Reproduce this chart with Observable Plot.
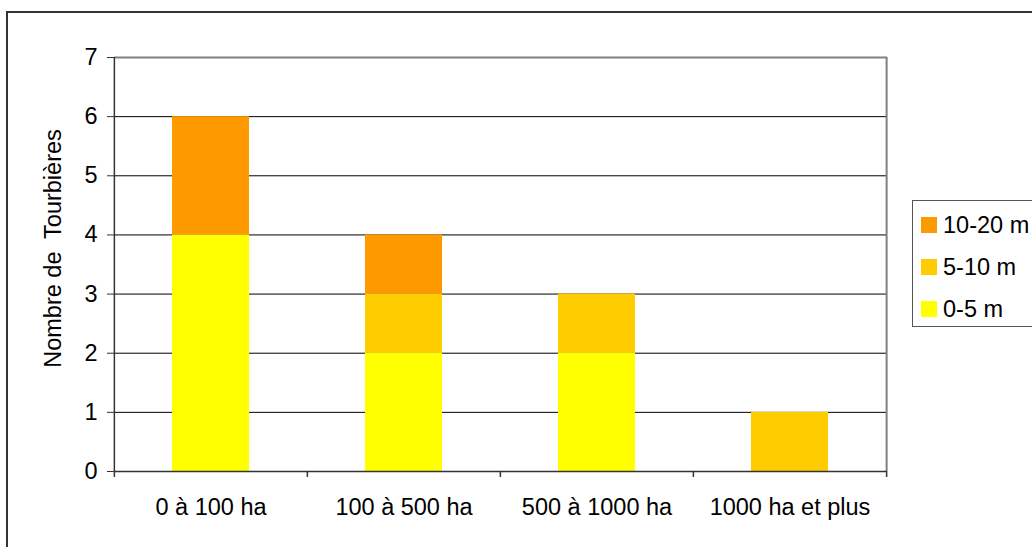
<!DOCTYPE html>
<html>
<head>
<meta charset="utf-8">
<script src="https://cdn.jsdelivr.net/npm/d3@7"></script>
<script src="https://cdn.jsdelivr.net/npm/@observablehq/plot@0.6"></script>
<style>
  html, body { margin: 0; padding: 0; background: #fff; overflow: hidden; }
  #wrap { position: relative; width: 1032px; height: 547px; overflow: hidden; font-family: "Liberation Sans", Arial, sans-serif; }
  #outer { position: absolute; left: 6px; top: 11px; width: 1100px; height: 600px; border: 2px solid #333; box-sizing: border-box; }
  #chart { position: absolute; left: 0; top: 0; }
  #chart svg text { white-space: pre; }
  #legend { position: absolute; left: 912px; top: 200px; width: 160px; height: 127px; border: 1px solid #555; box-sizing: border-box; background: #fff; }
  .item { position: absolute; left: 8px; height: 24px; display: flex; align-items: center; font-size: 23.5px; color: #000; white-space: nowrap; }
  .sw { width: 16px; height: 16px; margin-right: 6px; }
</style>
</head>
<body>
<div id="wrap">
  <div id="outer"></div>
  <div id="chart"></div>
  <div id="legend"></div>
</div>
<script>
// ---- data ----
const cats = ["0 à 100 ha", "100 à 500 ha", "500 à 1000 ha", "1000 ha et plus"];
const series = ["0-5 m", "5-10 m", "10-20 m"];
const v0_5 = [4, 2, 2, 0];
const v5_10 = [0, 1, 1, 1];
const v10_20 = [2, 1, 0, 0];
const colors = ["#FFFF00", "#FFCC00", "#FF9900"];
const yTicks = [0, 1, 2, 3, 4, 5, 6, 7];
const yLabel = "Nombre de  Tourbières";

const values = [v0_5, v5_10, v10_20];
const data = cats.flatMap((c, i) => series.map((s, k) => ({cat: c, series: s, value: values[k][i]})));

// ---- layout ----
const W = 1032, H = 547;
const mL = 114, mR = 145, mT = 57, mB = 76;
const bandW = (W - mL - mR) / cats.length;
const FS = 23.5;

const chart = Plot.plot({
  width: W,
  height: H,
  marginLeft: mL,
  marginRight: mR,
  marginTop: mT,
  marginBottom: mB,
  style: {fontFamily: "'Liberation Sans', Arial, sans-serif", fontSize: FS + "px", background: "transparent", color: "#000", overflow: "visible"},
  x: {type: "band", domain: cats, paddingInner: 0.6, paddingOuter: 0.3},
  y: {domain: [0, 7]},
  color: {domain: series, range: colors},
  marks: [
    Plot.ruleY(yTicks.slice(1, -1), {stroke: "#000", strokeWidth: 1}),
    Plot.ruleY([yTicks[yTicks.length - 1]], {stroke: "#808080", strokeWidth: 2}),
    Plot.ruleX([cats[cats.length - 1]], {dx: bandW / 2, y1: 0, y2: 7, stroke: "#808080", strokeWidth: 2}),
    Plot.barY(data, {x: "cat", y: "value", fill: "series"}),
    Plot.ruleY([0], {stroke: "#333", strokeWidth: 1.5}),
    Plot.ruleX([cats[0]], {dx: -bandW / 2, y1: 0, y2: 7, stroke: "#333", strokeWidth: 1.5}),
    Plot.ruleX(cats, {dx: -bandW / 2, y1: 0, y2: -0.1, stroke: "#333", strokeWidth: 1.5}),
    Plot.ruleX([cats[cats.length - 1]], {dx: bandW / 2, y1: 0, y2: -0.1, stroke: "#333", strokeWidth: 1.5}),
    Plot.axisY(yTicks, {tickSize: 7, tickPadding: 10, tickFormat: "d", label: null, stroke: "#333", fontSize: FS}),
    Plot.axisX({tickSize: 0, tickPadding: 27, label: null, fontSize: FS}),
    Plot.text([yLabel], {frameAnchor: "left", textAnchor: "middle", rotate: -90, dx: -61, dy: -16, fontSize: FS, fill: "#000"})
  ]
});
document.getElementById("chart").appendChild(chart);

// ---- legend (top to bottom: 10-20, 5-10, 0-5) ----
const legend = document.getElementById("legend");
const tops = [12, 54, 96];
series.slice().reverse().forEach((s, j) => {
  const k = series.length - 1 - j;
  const item = document.createElement("div");
  item.className = "item";
  item.style.top = tops[j] + "px";
  const sw = document.createElement("div");
  sw.className = "sw";
  sw.style.background = colors[k];
  const t = document.createElement("span");
  t.textContent = s;
  item.appendChild(sw);
  item.appendChild(t);
  legend.appendChild(item);
});
</script>
</body>
</html>
